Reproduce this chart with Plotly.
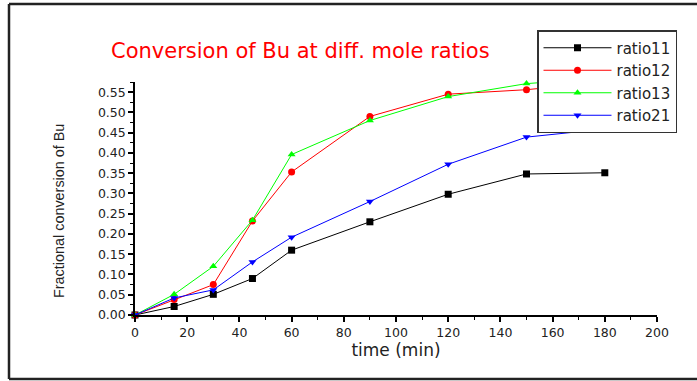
import plotly.graph_objects as go

time_min = [0, 15, 30, 45, 60, 90, 120, 150, 180]
ratio11 = [0.0, 0.021, 0.051, 0.090, 0.160, 0.230, 0.298, 0.348, 0.351]
ratio12 = [0.0, 0.038, 0.075, 0.232, 0.353, 0.490, 0.545, 0.556, 0.575]
ratio13 = [0.0, 0.051, 0.120, 0.234, 0.396, 0.480, 0.539, 0.571, 0.585]
ratio21 = [0.0, 0.042, 0.062, 0.131, 0.192, 0.280, 0.372, 0.439, 0.459]

series = [
    ("ratio11", ratio11, "black", "square"),
    ("ratio12", ratio12, "red", "circle"),
    ("ratio13", ratio13, "#00ff00", "triangle-up"),
    ("ratio21", ratio21, "blue", "triangle-down"),
]

FONT = "DejaVu Sans, Arial, sans-serif"

fig = go.Figure()
for name, vals, col, sym in series:
    fig.add_trace(go.Scatter(
        x=time_min, y=vals, name=name, mode="lines+markers",
        line=dict(color=col, width=1),
        marker=dict(color=col, symbol=sym, size=7),
        cliponaxis=False,
    ))

W, H = 697, 381
L, R, T, B = 135, 657, 82, 315
pw, ph = R - L, B - T

def px(xp):
    return (xp - L) / pw

def py(yp):
    return (B - yp) / ph

fx0, fx1, fy0, fy1 = px(9), px(697), py(379), py(4)
frame_style = dict(color="#222", width=2.5)
frame = [
    dict(type="line", xref="paper", yref="paper", x0=fx0, x1=fx0, y0=fy0, y1=fy1, line=frame_style, layer="below"),
    dict(type="line", xref="paper", yref="paper", x0=fx0, x1=fx1, y0=fy1, y1=fy1, line=frame_style, layer="below"),
    dict(type="line", xref="paper", yref="paper", x0=fx0, x1=fx1, y0=fy0, y1=fy0, line=frame_style, layer="below"),
]

fig.update_layout(
    width=W, height=H,
    margin=dict(l=L, r=W - R, t=T, b=H - B),
    paper_bgcolor="white", plot_bgcolor="white",
    font=dict(family=FONT, color="#222"),
    showlegend=True,
    legend=dict(
        x=px(537), y=py(30), xanchor="left", yanchor="top",
        bordercolor="#333", borderwidth=1.5, bgcolor="white",
        font=dict(size=15, color="#222", family=FONT),
        itemwidth=68,
    ),
    annotations=[
        dict(
            text="Conversion of Bu at diff. mole ratios",
            x=px(300), y=py(51), xref="paper", yref="paper",
            xanchor="center", yanchor="middle", showarrow=False,
            font=dict(size=21, color="red", family=FONT),
        ),
        dict(
            text="Fractional conversion of Bu",
            x=px(59), y=py(211), xref="paper", yref="paper",
            xanchor="center", yanchor="middle", showarrow=False, textangle=-90,
            font=dict(size=14.4, color="#222", family="Liberation Sans, Arial, sans-serif"),
        ),
    ],
    shapes=frame,
)

fig.update_xaxes(
    range=[0, 200], tickmode="linear", tick0=0, dtick=20,
    showline=True, linecolor="black", linewidth=1.5,
    ticks="outside", ticklen=5, tickwidth=1.5, tickcolor="black",
    minor=dict(dtick=10, ticks="outside", ticklen=3, tickcolor="black", tickwidth=1),
    showgrid=False, zeroline=False,
    tickfont=dict(size=12.5, color="#222", family=FONT),
    title=dict(text="time (min)", font=dict(size=17, color="#222", family=FONT), standoff=5),
)
fig.update_yaxes(
    range=[0, 0.575], tickmode="linear", tick0=0, dtick=0.05, tickformat=".2f",
    showline=True, linecolor="black", linewidth=1.5,
    ticks="outside", ticklen=5, tickwidth=1.5, tickcolor="black",
    minor=dict(dtick=0.025, ticks="outside", ticklen=3, tickcolor="black", tickwidth=1),
    showgrid=False, zeroline=False,
    tickfont=dict(size=12.5, color="#222", family=FONT),
)

fig.write_html("out.html")
